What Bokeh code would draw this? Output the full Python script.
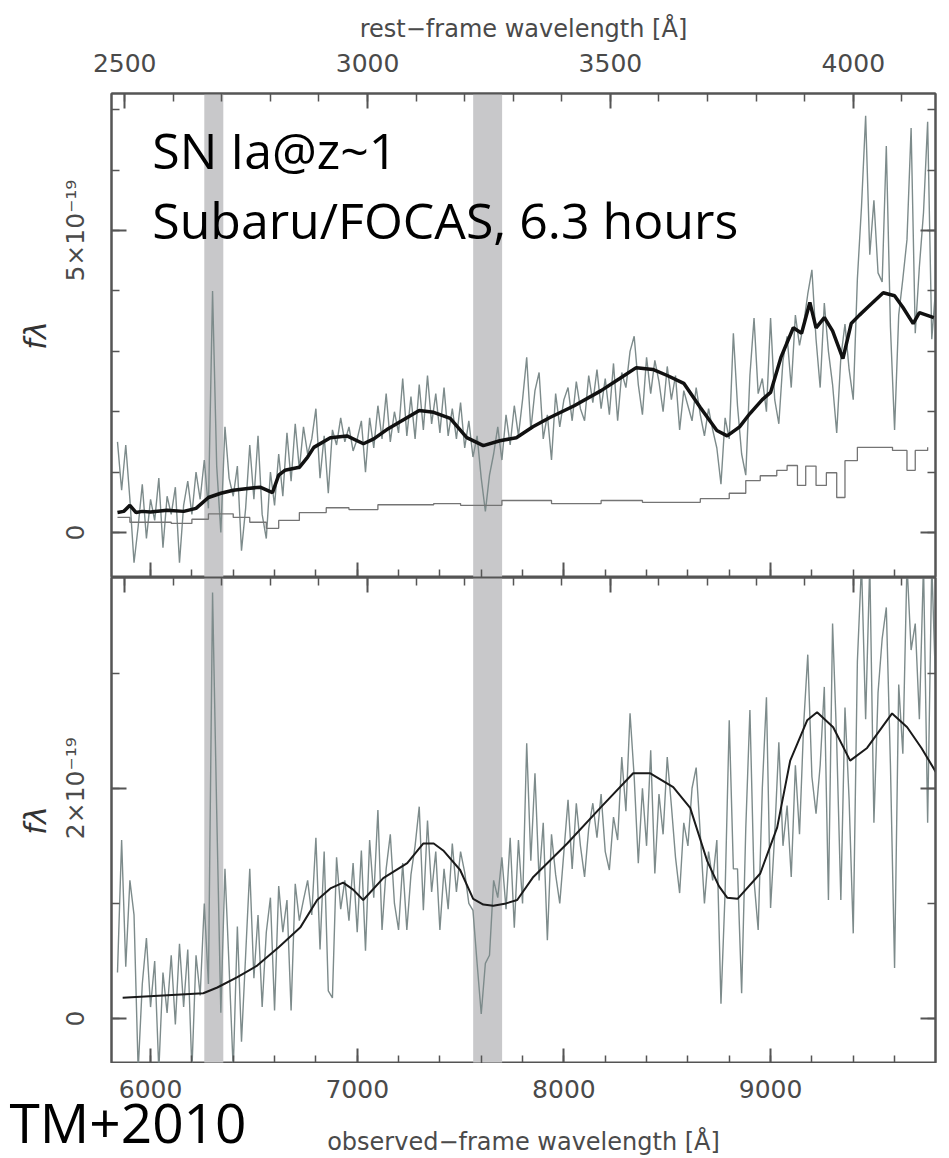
import math
from bokeh.plotting import figure
from bokeh.models import Range1d, LinearAxis, SingleIntervalTicker, BoxAnnotation, CustomLabelingPolicy
from bokeh.layouts import column, row
from bokeh.embed import file_html
from bokeh.resources import INLINE
from bokeh.core.properties import value

# ---------------- data ----------------
ONE_PLUS_Z = 2.35                  # observed / rest wavelength
OBS_RANGE = (5811, 9798)           # observed-frame wavelength range [A]
TOP_YRANGE = (-0.745, 7.27)        # units of 1e-19
BOT_YRANGE = (-0.39, 3.83)         # units of 1e-19
OBS_TICK_LABELS = [6000, 7000, 8000, 9000]

# sampling of the observed spectrum (20 A bins)
wl_grid = list(range(5840, 9840, 20))

# observed spectrum, upper panel (1e-19), rows of 10 bins from 5840 A
top_flux_rows = [
    [1.50, 0.70, 1.45, 0.55, -0.50, 0.10, 0.80, -0.10, 0.55, 0.20],
    [0.90, -0.25, 0.60, 0.30, 0.75, -0.50, 0.45, 0.85, 0.30, 1.00],
    [0.55, 1.20, 0.40, 4.00, 1.10, 0.00, 1.75, 0.90, 0.60, 1.10],
    [-0.30, 0.40, 1.45, 0.55, 1.60, 0.30, -0.10, 1.00, 0.45, 1.30],
    [0.60, 1.65, 0.85, 1.80, 1.05, 1.75, 1.30, 1.55, 2.05, 0.90],
    [1.60, 0.65, 1.70, 1.45, 1.90, 1.50, 1.75, 1.35, 1.55, 1.85],
    [1.00, 1.90, 1.40, 2.10, 1.55, 2.30, 1.50, 2.00, 1.65, 2.55],
    [1.60, 2.25, 1.55, 2.45, 1.70, 2.60, 1.80, 2.30, 1.65, 2.40],
    [1.60, 2.05, 1.55, 2.15, 1.40, 1.85, 1.25, 1.60, 0.90, 0.35],
    [0.95, 1.30, 1.75, 1.20, 1.95, 1.45, 2.10, 1.60, 2.20, 2.90],
    [1.70, 2.35, 2.65, 1.55, 1.95, 1.20, 2.30, 1.75, 2.20, 2.40],
    [1.85, 2.50, 2.05, 1.85, 2.60, 2.15, 2.70, 2.05, 2.55, 1.95],
    [2.80, 1.85, 2.65, 2.40, 3.00, 3.25, 2.45, 1.95, 2.90, 2.30],
    [2.85, 2.50, 2.00, 2.75, 2.20, 2.60, 1.70, 2.35, 2.10, 1.85],
    [2.40, 1.95, 1.60, 2.05, 1.70, 1.40, 0.80, 1.90, 1.55, 3.30],
    [2.10, 1.30, 0.95, 2.60, 3.55, 2.30, 2.55, 2.00, 3.55, 2.20],
    [1.80, 2.85, 3.25, 2.40, 3.60, 3.10, 3.45, 3.95, 4.35, 3.20],
    [2.40, 3.80, 3.00, 2.45, 1.65, 2.90, 3.45, 2.70, 2.20, 4.20],
    [5.40, 6.90, 4.60, 5.50, 4.30, 4.15, 6.40, 3.40, 1.70, 3.60],
    [4.20, 4.85, 6.70, 3.30, 4.40, 5.30, 6.80, 3.20, 4.10, 3.60],
]

# observed spectrum, lower panel (1e-19), rows of 10 bins from 5840 A
bot_flux_rows = [
    [0.40, 1.55, 0.45, 1.20, 0.90, -0.45, 0.30, 0.70, 0.10, 0.50],
    [-0.45, 0.40, 0.05, 0.55, -0.05, 0.65, 0.10, 0.60, -0.45, 0.55],
    [0.20, 1.00, 0.30, 3.70, 1.80, 0.05, 1.30, 0.45, -0.45, 0.80],
    [-0.20, 0.55, 1.30, 0.35, 0.90, 0.10, 0.75, 1.05, 0.07, 1.15],
    [0.75, 1.03, 0.07, 1.17, 0.85, 1.03, 1.20, 0.90, 1.57, 0.60],
    [1.45, 0.24, 0.18, 1.40, 0.95, 1.20, 0.85, 1.35, 0.75, 1.46],
    [0.59, 1.55, 1.05, 1.81, 0.77, 1.30, 1.60, 1.00, 0.77, 1.35],
    [0.77, 1.25, 1.50, 1.84, 0.94, 1.72, 1.10, 1.45, 0.77, 1.30],
    [0.95, 1.52, 1.10, 1.45, 1.27, 1.00, 0.94, 0.48, 0.04, 0.48],
    [0.55, 1.20, 1.05, 1.40, 0.95, 1.57, 0.79, 1.55, 1.00, 2.39],
    [1.37, 2.13, 1.20, 1.70, 0.68, 1.60, 1.25, 1.00, 1.45, 1.90],
    [1.30, 1.87, 1.50, 1.23, 1.65, 1.87, 1.57, 1.95, 1.45, 1.29],
    [1.75, 1.55, 2.27, 1.80, 2.65, 2.10, 1.35, 2.00, 1.50, 2.33],
    [1.26, 1.95, 1.60, 2.27, 1.85, 1.40, 1.09, 1.70, 1.50, 2.00],
    [2.18, 1.60, 1.00, 1.45, 1.20, 1.55, 0.13, 1.10, 2.59, 1.30],
    [1.30, 0.22, 1.65, 2.68, 1.20, 0.77, 2.00, 2.79, 0.96, 1.60],
    [2.40, 1.50, 1.85, 1.23, 2.20, 1.60, 2.55, 3.16, 2.10, 1.78],
    [2.20, 2.88, 1.03, 3.43, 2.40, 1.03, 2.70, 1.90, 0.74, 3.10],
    [3.95, 2.60, 3.95, 1.70, 2.83, 3.30, 3.57, 2.20, 0.44, 2.90],
    [2.30, 3.95, 3.20, 3.43, 2.60, 3.95, 1.70, 3.95, 2.80, 2.50],
]

# smoothed spectrum (upper panel, thick black)
smooth_wl = [5840, 5870, 5900, 5930, 5960, 6000, 6080, 6160, 6220, 6280,
             6340, 6400, 6470, 6530, 6590, 6620, 6650, 6720, 6760, 6790,
             6870, 6950, 7030, 7080, 7150, 7230, 7300, 7370, 7450, 7530,
             7610, 7690, 7770, 7850, 7930, 8050, 8180, 8270, 8350, 8430,
             8500, 8580, 8660, 8740, 8790, 8850, 8900, 8960, 9000, 9050,
             9110, 9150, 9190, 9220, 9260, 9300, 9350, 9390, 9430, 9470,
             9545, 9600, 9640, 9690, 9720, 9790]
smooth_flux = [0.33, 0.35, 0.45, 0.33, 0.35, 0.34, 0.37, 0.35, 0.40, 0.58,
               0.65, 0.70, 0.73, 0.75, 0.66, 0.95, 1.03, 1.08, 1.25, 1.41,
               1.57, 1.60, 1.47, 1.55, 1.72, 1.88, 2.02, 1.99, 1.89, 1.57,
               1.44, 1.52, 1.57, 1.75, 1.90, 2.10, 2.35, 2.55, 2.73, 2.70,
               2.60, 2.47, 2.07, 1.69, 1.60, 1.75, 1.97, 2.20, 2.32, 2.90,
               3.39, 3.30, 3.81, 3.39, 3.56, 3.34, 2.88, 3.46, 3.60, 3.73,
               3.97, 3.92, 3.73, 3.46, 3.64, 3.56]

# error / sky spectrum (upper panel, thin grey histogram)
err_wl = [5840, 5900, 6000, 6100, 6200, 6280, 6400, 6480, 6560, 6620,
          6720, 6850, 6960, 7100, 7370, 7500, 7700, 7940, 8180, 8380,
          8660, 8800, 8880, 8950, 9030, 9080, 9130, 9170, 9220, 9270,
          9320, 9360, 9420, 9590, 9660, 9700, 9760]
err_flux = [0.25, 0.17, 0.17, 0.15, 0.22, 0.31, 0.25, 0.17, 0.07, 0.20,
            0.33, 0.41, 0.38, 0.46, 0.48, 0.45, 0.53, 0.48, 0.53, 0.50,
            0.56, 0.65, 0.86, 0.94, 1.03, 1.11, 0.78, 1.10, 0.78, 0.99,
            0.58, 1.19, 1.41, 1.36, 1.03, 1.36, 1.41]

# SN Ia template (lower panel, black)
tmpl_wl = [5865, 6255, 6323, 6420, 6516, 6620, 6724, 6806, 6870, 6932,
           6980, 7029, 7126, 7242, 7319, 7370, 7416, 7498, 7561, 7610,
           7658, 7720, 7774, 7852, 8016, 8176, 8335, 8418, 8529, 8611,
           8693, 8750, 8790, 8840, 8950, 9032, 9095, 9177, 9225, 9303,
           9385, 9467, 9588, 9661, 9730, 9800]
tmpl_flux = [0.18, 0.22, 0.27, 0.36, 0.46, 0.62, 0.79, 1.03, 1.13, 1.18,
             1.12, 1.03, 1.22, 1.35, 1.52, 1.52, 1.46, 1.29, 1.04, 0.99,
             0.98, 1.00, 1.03, 1.23, 1.52, 1.83, 2.13, 2.13, 2.01, 1.83,
             1.37, 1.15, 1.05, 1.04, 1.26, 1.66, 2.24, 2.59, 2.66, 2.53,
             2.24, 2.35, 2.65, 2.53, 2.35, 2.14]

# masked (telluric) regions, observed frame
bands = [(6260, 6352), (7561, 7701)]

top_flux = [v for r in top_flux_rows for v in r]
bot_flux = [v for r in bot_flux_rows for v in r]

# ---------------- styling / layout ----------------
W = 949
BORDER_L, BORDER_R = 111, 14
AX = "#555555"
TICK_FONT = "DejaVu Sans"
LABEL_COLOR = "#4a4a4a"
SPEC_COLOR = "#7d8b8b"
BAND_COLOR = "#c8c8ca"
NOTE_FONT = "Open Sans"

# tick-only axes: draw no labels at all
NO_LABELS = CustomLabelingPolicy(code="""
try {
  for (let i = 0; i < indices.size; i++) { indices.unset(i) }
} catch (e) {}
return indices
""")


def style_axis(ax, show_labels):
    ax.axis_line_color = AX
    ax.axis_line_width = 2
    ax.major_tick_line_color = AX
    ax.minor_tick_line_color = AX
    ax.major_tick_line_width = 2
    ax.minor_tick_line_width = 1.5
    ax.major_tick_in = 15
    ax.major_tick_out = 0
    ax.minor_tick_in = 8
    ax.minor_tick_out = 0
    ax.major_label_text_font = TICK_FONT
    ax.major_label_text_color = LABEL_COLOR
    ax.axis_label_text_font = TICK_FONT
    ax.axis_label_text_color = LABEL_COLOR
    ax.axis_label_text_font_style = "normal"
    if show_labels:
        ax.major_label_text_font_size = "25px"
    else:
        ax.major_label_text_font_size = "0px"
        ax.major_label_standoff = 0
        ax.major_label_policy = NO_LABELS


def make_panel(height, yr, major, n_minor, ylabels, border_top, rest_labels):
    p = figure(width=W, height=height,
               x_range=Range1d(*OBS_RANGE), y_range=Range1d(*yr),
               output_backend="svg", toolbar_location=None,
               x_axis_location=None, y_axis_location=None,
               min_border_left=BORDER_L, min_border_right=BORDER_R,
               min_border_top=border_top, min_border_bottom=0)
    p.extra_x_ranges = {"rest": Range1d(OBS_RANGE[0] / ONE_PLUS_Z, OBS_RANGE[1] / ONE_PLUS_Z)}
    p.outline_line_color = AX
    p.outline_line_width = 2
    p.grid.grid_line_color = None
    p.background_fill_color = "white"
    p.border_fill_color = "white"

    below = LinearAxis(ticker=SingleIntervalTicker(interval=1000, num_minor_ticks=5))
    style_axis(below, False)
    p.add_layout(below, "below")

    above = LinearAxis(x_range_name="rest",
                       ticker=SingleIntervalTicker(interval=500, num_minor_ticks=5))
    style_axis(above, rest_labels)
    if rest_labels:
        above.axis_label = "rest\u2212frame wavelength [\u00c5]"
        above.axis_label_text_font_size = "24px"
        above.major_label_standoff = 22
        above.axis_label_standoff = 8
    p.add_layout(above, "above")

    left = LinearAxis(ticker=SingleIntervalTicker(interval=major, num_minor_ticks=n_minor))
    style_axis(left, True)
    left.major_label_overrides = ylabels
    left.major_label_orientation = "parallel"
    left.major_label_standoff = 21
    left.axis_label = "f\u03bb"
    left.axis_label_text_font_style = "italic"
    left.axis_label_text_font_size = "30px"
    left.axis_label_text_color = "#333333"
    left.axis_label_standoff = 6
    p.add_layout(left, "left")

    right = LinearAxis(ticker=SingleIntervalTicker(interval=major, num_minor_ticks=n_minor))
    style_axis(right, False)
    p.add_layout(right, "right")

    for lo, hi in bands:
        p.add_layout(BoxAnnotation(left=lo, right=hi, fill_color=BAND_COLOR, fill_alpha=1.0,
                                   line_color=None, level="underlay"))
    return p


# upper panel: frame from y=93 to y=577
top = make_panel(577, TOP_YRANGE, 5, 5, {0: "0", 5: "5\u00d710\u207b\u00b9\u2079"}, 93, True)
top.line(wl_grid, top_flux, line_color=SPEC_COLOR, line_width=1.4)
top.step(err_wl, err_flux, mode="after", line_color="#747474", line_width=1.3)
top.line(smooth_wl, smooth_flux, line_color="#111111", line_width=3.5)
top.text(x=[6008], y=[6.34], text=["SN Ia@z~1"], text_font=value(NOTE_FONT),
         text_font_size="50px", text_color="black", text_baseline="alphabetic", text_align="left")
top.text(x=[6008], y=[5.18], text=["Subaru/FOCAS, 6.3 hours"], text_font=value(NOTE_FONT),
         text_font_size="50px", text_color="black", text_baseline="alphabetic", text_align="left")

# lower panel: frame from y=577 to y=1063
bot = make_panel(486, BOT_YRANGE, 2, 2, {0: "0", 2: "2\u00d710\u207b\u00b9\u2079"}, 0, False)
bot.line(wl_grid, bot_flux, line_color=SPEC_COLOR, line_width=1.4)
bot.line(tmpl_wl, tmpl_flux, line_color="#1a1a1a", line_width=2)

# footer strip (y=1063..1158): observed-frame tick labels, axis title and citation.
# Its x range continues the panels' observed-wavelength scale across the full width.
px_per_A = (W - BORDER_L - BORDER_R) / (OBS_RANGE[1] - OBS_RANGE[0])
foot_x = Range1d(OBS_RANGE[0] - BORDER_L / px_per_A, OBS_RANGE[1] + BORDER_R / px_per_A)
foot = figure(width=W, height=95, x_range=foot_x, y_range=Range1d(0, 95),
              output_backend="svg", toolbar_location=None,
              x_axis_location=None, y_axis_location=None,
              min_border_left=0, min_border_right=0, min_border_top=0, min_border_bottom=0)
foot.outline_line_color = None
foot.grid.grid_line_color = None
foot.text(x=OBS_TICK_LABELS, y=[70] * len(OBS_TICK_LABELS),
          text=[str(t) for t in OBS_TICK_LABELS],
          text_font=value(TICK_FONT), text_font_size="25px", text_color=LABEL_COLOR,
          text_align="center", text_baseline="alphabetic")
foot.text(x=[(OBS_RANGE[0] + OBS_RANGE[1]) / 2], y=[17],
          text=["observed\u2212frame wavelength [\u00c5]"],
          text_font=value(TICK_FONT), text_font_size="24px", text_color=LABEL_COLOR,
          text_align="center", text_baseline="alphabetic")
foot.text(x=[OBS_RANGE[0] - (BORDER_L - 9) / px_per_A], y=[37], text=["TM+2010"],
          text_font=value(NOTE_FONT), text_font_size="55px", text_color="black",
          text_align="left", text_baseline="alphabetic")

layout = column(top, bot, row(foot, spacing=0), spacing=0)
open("out.html", "w").write(file_html(layout, INLINE))
